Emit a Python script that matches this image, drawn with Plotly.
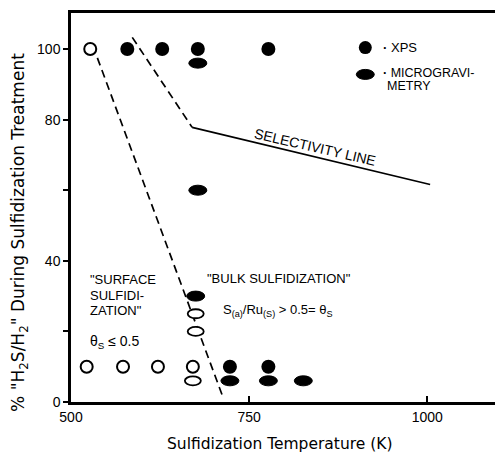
import plotly.graph_objects as go

# ---------------- data ----------------
# XPS, filled circles
xps_filled_T = [579, 628, 678, 777, 723, 777]
xps_filled_pct = [100, 100, 100, 100, 10, 10]
# XPS, open circles
xps_open_T = [527, 522, 573, 622, 671]
xps_open_pct = [100, 10, 10, 10, 10]
# Microgravimetry, filled ellipses
micro_filled_T = [678, 678, 675, 723, 777, 826]
micro_filled_pct = [96, 60, 30, 6, 6, 6]
# Microgravimetry, open ellipses
micro_open_T = [671, 675, 675]
micro_open_pct = [6, 25, 20]
# boundary lines
surface_line_T = [537, 713]
surface_line_pct = [97.5, 1.5]
bulk_dash_T = [586, 670]
bulk_dash_pct = [103.3, 77.8]
selectivity_T = [670, 1004]
selectivity_pct = [77.8, 61.6]
# ticks
x_ticks = [500, 750, 1000]
x_tick_labels = ["500", "750", "1000"]
y_ticks = [0, 40, 80, 100]
y_tick_labels = ["0", "40", "80", "100"]
y_minor_ticks = [20, 60]

FONT = "Liberation Sans"
TITLE_FONT = "DejaVu Sans"
BLACK = "black"

fig = go.Figure()

fig.add_trace(go.Scatter(x=surface_line_T, y=surface_line_pct, mode="lines",
                         line=dict(color=BLACK, width=1.7, dash="8px,5px"),
                         showlegend=False, hoverinfo="skip"))
fig.add_trace(go.Scatter(x=bulk_dash_T, y=bulk_dash_pct, mode="lines",
                         line=dict(color=BLACK, width=1.7, dash="8px,5px"),
                         showlegend=False, hoverinfo="skip"))
fig.add_trace(go.Scatter(x=selectivity_T, y=selectivity_pct, mode="lines",
                         line=dict(color=BLACK, width=1.6),
                         showlegend=False, hoverinfo="skip"))

fig.add_trace(go.Scatter(x=xps_filled_T, y=xps_filled_pct, mode="markers",
                         marker=dict(symbol="circle", size=14, color=BLACK),
                         showlegend=False))
fig.add_trace(go.Scatter(x=xps_open_T, y=xps_open_pct, mode="markers",
                         marker=dict(symbol="circle", size=12, color="white",
                                     line=dict(color=BLACK, width=2)),
                         showlegend=False))

shapes = []
for t, p in zip(micro_filled_T, micro_filled_pct):
    shapes.append(dict(type="circle", xref="x", yref="y", xsizemode="pixel", ysizemode="pixel",
                       xanchor=t, yanchor=p, x0=-9, x1=9, y0=-5, y1=5,
                       fillcolor=BLACK, line=dict(color=BLACK, width=1)))
for t, p in zip(micro_open_T, micro_open_pct):
    shapes.append(dict(type="circle", xref="x", yref="y", xsizemode="pixel", ysizemode="pixel",
                       xanchor=t, yanchor=p, x0=-8, x1=8, y0=-4.5, y1=4.5,
                       fillcolor="white", line=dict(color=BLACK, width=1.8)))

# legend (drawn inside the plot like the original)
LEG_T = 913
fig.add_trace(go.Scatter(x=[LEG_T], y=[100.4], mode="markers",
                         marker=dict(symbol="circle", size=13, color=BLACK),
                         showlegend=False, hoverinfo="skip"))
shapes.append(dict(type="circle", xref="x", yref="y", xsizemode="pixel", ysizemode="pixel",
                   xanchor=LEG_T, yanchor=92.8, x0=-9, x1=9, y0=-5, y1=5,
                   fillcolor=BLACK, line=dict(color=BLACK, width=1)))

ann = []
def add_text(x, y, text, size=13, xanchor="left", angle=0, xref="x", yref="y",
             yanchor="middle", family=FONT):
    ann.append(dict(x=x, y=y, xref=xref, yref=yref, text=text, showarrow=False,
                    xanchor=xanchor, yanchor=yanchor, textangle=angle,
                    font=dict(family=family, size=size, color=BLACK)))

add_text(LEG_T + 22, 100.4, "<b>·</b> XPS", size=13)
add_text(LEG_T + 22, 93.3, "<b>·</b> MICROGRAVI-", size=12.5)
add_text(LEG_T + 28, 89.6, "METRY", size=12.5)

add_text(524, 34.7, "\"SURFACE", size=13)
add_text(524, 30.3, "SULFIDI-", size=13)
add_text(524, 26.0, "ZATION\"", size=13)
add_text(524, 17.0, "θ<sub>S</sub> ≤ 0.5", size=14)

add_text(688, 35.0, "\"BULK SULFIDIZATION\"", size=13)
add_text(711, 26.0, "S<sub>(a)</sub>/Ru<sub>(S)</sub> > 0.5= θ<sub>S</sub>", size=13)

add_text(842, 72.3, "SELECTIVITY LINE", size=14, xanchor="center", angle=13)

# axis titles
add_text(-0.12, 0.435, "% \"H<sub>2</sub>S/H<sub>2</sub>\" During Sulfidization Treatment", size=17,
         xanchor="center", angle=-90, xref="paper", yref="paper", family=TITLE_FONT)
add_text(0.493, -0.108, "Sulfidization Temperature (K)", size=15.5,
         xanchor="center", xref="paper", yref="paper", family=TITLE_FONT)

fig.update_layout(
    width=495, height=454,
    margin=dict(l=71, r=0, t=13, b=52),
    paper_bgcolor="white", plot_bgcolor="white",
    shapes=shapes, annotations=ann,
    showlegend=False,
    font=dict(family=FONT, size=14, color=BLACK),
    xaxis=dict(range=[500, 1095], tickvals=x_ticks, ticktext=x_tick_labels,
               showgrid=False, zeroline=False, showline=True, linecolor=BLACK, linewidth=2.5,
               mirror=True, ticks="inside", ticklen=6, tickwidth=1.5, tickcolor=BLACK,
               tickfont=dict(family=FONT, size=14)),
    yaxis=dict(range=[0, 110.2], tickvals=y_ticks, ticktext=y_tick_labels,
               showgrid=False, zeroline=False, showline=True, linecolor=BLACK, linewidth=2.5,
               mirror=False, ticks="outside", ticklen=5, tickwidth=1.5, tickcolor=BLACK,
               tickfont=dict(family=FONT, size=14),
               minor=dict(tickvals=y_minor_ticks, ticks="outside", ticklen=5,
                          tickwidth=1.5, tickcolor=BLACK, showgrid=False)),
)

fig.write_html("out.html", config={"displayModeBar": False},
               post_script="document.body.style.margin='0';")
